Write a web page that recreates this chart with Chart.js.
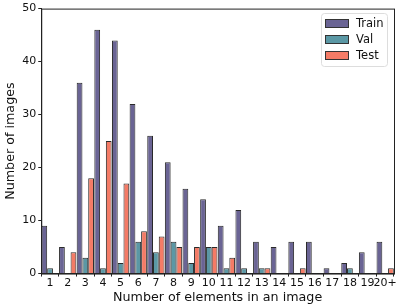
<!DOCTYPE html>
<html>
<head>
<meta charset="utf-8">
<script src="https://cdn.jsdelivr.net/npm/chart.js@4"></script>
<style>
  body { margin: 0; background: #fff; }
  #wrap { width: 399px; height: 308px; }
</style>
</head>
<body>
<div id="wrap"><canvas id="mycanvas" width="399" height="308"></canvas></div>
<script>
var categories = ['1','2','3','4','5','6','7','8','9','10','11','12','13','14','15','16','17','18','19','20+'];
var train = [9, 5, 36, 46, 44, 32, 26, 21, 16, 14, 9, 12, 6, 5, 6, 6, 1, 2, 4, 6];
var val   = [1, 0, 3, 1, 2, 6, 4, 6, 2, 5, 1, 1, 1, 0, 0, 0, 0, 1, 0, 0];
var test  = [0, 4, 18, 25, 17, 8, 7, 5, 5, 5, 3, 0, 1, 0, 1, 0, 0, 0, 0, 1];
var yTicks = [0, 10, 20, 30, 40, 50];

var font = "'DejaVu Sans', sans-serif";

// legend + frame drawn inside the plot, like matplotlib
var boxPlugin = {
    id: 'boxPlugin',
    afterDraw: function(chart) {
        var ctx = chart.ctx;
        var a = chart.chartArea;
        ctx.save();
        ctx.strokeStyle = '#222';
        ctx.lineWidth = 1;
        ctx.strokeRect(a.left + 0.5, a.top + 0.5, a.right - a.left, a.bottom - a.top);

        var ds = chart.data.datasets;
        var w = 66, h = 53;
        var x = Math.round(a.right - w - 7), y = Math.round(a.top + 4);
        ctx.fillStyle = 'rgba(255,255,255,0.8)';
        ctx.strokeStyle = '#ddd';
        ctx.beginPath();
        ctx.roundRect(x + 0.5, y + 0.5, w, h, 3);
        ctx.fill();
        ctx.stroke();
        ctx.font = '11.5px ' + font;
        ctx.textBaseline = 'middle';
        for (var i = 0; i < ds.length; i++) {
            var ry = y + 10 + i * 16;
            ctx.fillStyle = ds[i].backgroundColor;
            ctx.strokeStyle = '#333';
            ctx.fillRect(x + 4, ry - 3, 23, 7);
            ctx.strokeRect(x + 4.5, ry - 3.5, 23, 8);
            ctx.fillStyle = '#111';
            ctx.fillText(ds[i].label, x + 35, ry + 1);
        }
        ctx.restore();
    }
};

function ds(label, data, color) {
    return {
        label: label,
        data: data,
        backgroundColor: color,
        borderColor: '#2a2a2a',
        borderWidth: 1,
        borderSkipped: 'bottom',
        barPercentage: 1,
        categoryPercentage: 0.98
    };
}

new Chart(document.getElementById('mycanvas'), {
    type: 'bar',
    data: {
        labels: categories,
        datasets: [
            ds('Train', train, '#6a6494'),
            ds('Val', val, '#5b98a5'),
            ds('Test', test, '#f47b66')
        ]
    },
    options: {
        responsive: false,
        animation: false,
        layout: { padding: { top: 6, right: 5, left: 3, bottom: 3 } },
        plugins: {
            legend: { display: false },
            tooltip: { enabled: false }
        },
        scales: {
            x: {
                grid: { drawOnChartArea: false, drawTicks: true, tickLength: 3, color: '#222' },
                border: { display: true, color: '#222' },
                ticks: { color: '#111', font: { family: font, size: 11 }, padding: 0, maxRotation: 0, autoSkip: false },
                title: { display: true, text: 'Number of elements in an image', color: '#111', font: { family: font, size: 12.7 }, padding: { top: 0, bottom: 0 } }
            },
            y: {
                min: 0,
                max: 50,
                afterBuildTicks: function(axis) {
                    axis.ticks = yTicks.map(function(v) { return { value: v }; });
                },
                grid: { drawOnChartArea: false, drawTicks: true, tickLength: 3, color: '#222' },
                border: { display: true, color: '#222' },
                ticks: { color: '#111', font: { family: font, size: 11 }, padding: 2 },
                title: { display: true, text: 'Number of images', color: '#111', font: { family: font, size: 12.7 }, padding: { top: 0, bottom: 2 } }
            }
        }
    },
    plugins: [boxPlugin]
});
</script>
</body>
</html>
